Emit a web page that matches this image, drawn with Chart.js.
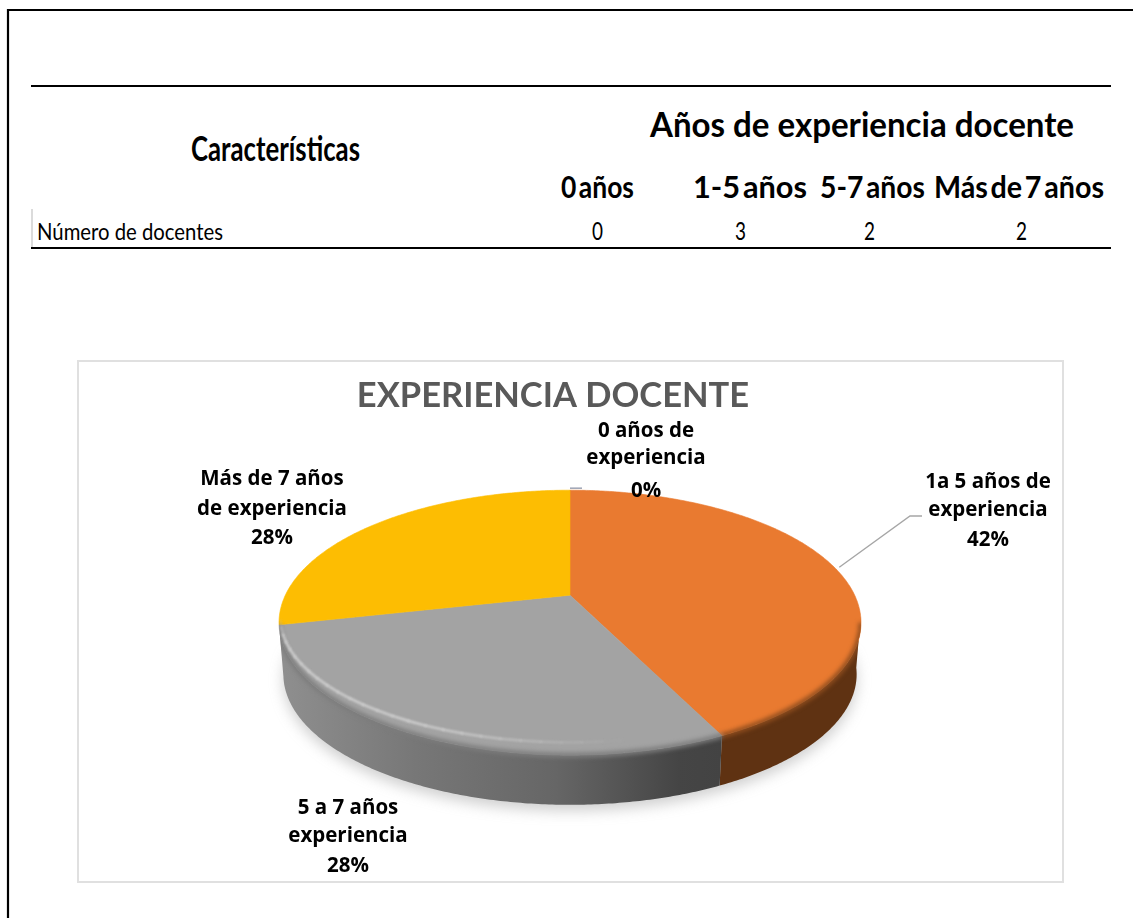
<!DOCTYPE html>
<html lang="es"><head><meta charset="utf-8">
<style>
html,body{margin:0;padding:0;background:#fff;width:1133px;height:918px;overflow:hidden}
#page{position:absolute;left:0;top:0;width:1133px;height:918px}
#page svg{position:absolute;left:0;top:0}
#frame{position:absolute;left:77px;top:360px;width:987px;height:523px;box-sizing:border-box;border:2px solid #e0e0e0}
#chart{position:absolute;left:78px;top:360px;width:985px;height:522px}
</style>
<script src="https://cdn.jsdelivr.net/npm/chart.js@4/dist/chart.umd.min.js"></script>
</head><body>
<div id="page">
<svg id="tbl" width="1133" height="918" xmlns="http://www.w3.org/2000/svg"></svg>
<div id="frame"></div>
<canvas id="chart" width="985" height="522"></canvas>
</div>
<script>
// ---- data ----
const chartTitle = 'EXPERIENCIA DOCENTE';
const categories = ['0 años de experiencia','1a 5 años de experiencia','5 a 7 años experiencia','Más de 7 años de experiencia'];
const docentes = [0,3,2,2];
const percentLabels = ['0%','42%','28%','28%'];
const labelLines = [['0 años de','experiencia'],['1a 5 años de','experiencia'],['5 a 7 años','experiencia'],['Más de 7 años','de experiencia']];
const faceColors = ['#5B9BD5','#E97A30','#A3A3A3','#FDBD02'];
const sideColors = ['#3f6a92','#5F3212','#666666','#a07800'];
const tableHeadLeft = 'Características';
const tableHeadRight = 'Años de experiencia docente';
const tableColumns = ['0 años','1-5 años','5-7 años','Más de 7 años'];
const tableRowLabel = 'Número de docentes';

// ---- table (real text) ----
const NS='http://www.w3.org/2000/svg', svg=document.getElementById('tbl');
function line(x1,y1,x2,y2,c,w){const l=document.createElementNS(NS,'line');
  l.setAttribute('x1',x1);l.setAttribute('y1',y1);l.setAttribute('x2',x2);l.setAttribute('y2',y2);
  l.setAttribute('stroke',c);l.setAttribute('stroke-width',w);svg.appendChild(l);}
function text(s,x,y,len,size,weight,ws){const t=document.createElementNS(NS,'text');
  t.textContent=s;t.setAttribute('x',x);t.setAttribute('y',y);
  t.setAttribute('style',`font-family:Lato,sans-serif;font-size:${size}px;font-weight:${weight};fill:#000;word-spacing:${ws||0}em`);
  if(len){t.setAttribute('textLength',len);t.setAttribute('lengthAdjust','spacingAndGlyphs');}
  svg.appendChild(t);}
line(7,10,1133,10,'#000',2.2); line(8,9,8,918,'#000',2.2);
line(31,86,1111,86,'#000',2); line(31,248,1111,248,'#000',2);
line(32,209,32,247,'#cfcfcf',1.5);
text(tableHeadLeft,191,161,169,34,700);
text(tableHeadRight,650,137,424,35,700);
const headX=[561,693,820,934], headW=[73,114,105,170];
tableColumns.forEach((c,i)=>text(c,headX[i],198,headW[i],31,700,-0.15));
text(tableRowLabel,37,240,186,24,400);
const valX=[592,735,864,1016];
docentes.forEach((v,i)=>text(String(v),valX[i],240,11,25,400));

// ---- 3D pie, drawn from the library's arc elements ----
const PERSP=0.2075, STRETCH=2.245, PIE_SHIFT_X=17, DEPTH=52, BOTTOM_SCALE=0.985;
const labelPos=[[568,77],[910,128],[270,454],[194,125]];
const LABEL_FONT='700 20.5px "Open Sans",sans-serif', LINE_H=[27,28,28,30];
const pctY=[137,186,512,184];

function projector(arc){
  const cx=arc.x+PIE_SHIFT_X, cy=arc.y, ry=arc.outerRadius, rx=ry*STRETCH;
  return (a,s=1,dy=0)=>{const w=1-PERSP*Math.sin(a);
    return [cx+rx*s*Math.cos(a)/w, cy+ry*s*Math.sin(a)/w+dy];};
}
function tracePts(ctx,P,a0,a1,s,dy,first){
  const n=Math.max(2,Math.ceil(Math.abs(a1-a0)/0.01));
  for(let i=0;i<=n;i++){const a=a0+(a1-a0)*i/n,p=P(a,s,dy);
    if(i===0&&first)ctx.moveTo(p[0],p[1]);else ctx.lineTo(p[0],p[1]);}
}
const FRONT0=Math.PI*12/180, FRONT1=Math.PI*167.2/180;

const pie3d={id:'pie3d',
  beforeDatasetDraw(chart){
    const ctx=chart.ctx, arcs=chart.getDatasetMeta(0).data, P=projector(arcs[0]);
    const TWO=Math.PI*2;
    ctx.save();
    // floor shadow
    ctx.filter='blur(7px)';ctx.fillStyle='rgba(130,130,130,.38)';
    ctx.beginPath();tracePts(ctx,P,0,Math.PI,BOTTOM_SCALE,DEPTH+6,true);ctx.closePath();ctx.fill();
    ctx.filter='none';
    // sides
    arcs.forEach((arc,i)=>{
      const a0=Math.max(arc.startAngle,FRONT0-0.05), a1=Math.min(arc.endAngle,FRONT1);
      if(a1<=a0)return;
      ctx.beginPath();tracePts(ctx,P,a0,a1,1,0,true);tracePts(ctx,P,a1,a0,BOTTOM_SCALE,DEPTH,false);ctx.closePath();
      if(i===2){
        const g=ctx.createLinearGradient(P(Math.PI,1)[0],0,P(a0,1)[0],0);
        g.addColorStop(0,'#8e8e8e');g.addColorStop(.3,'#777777');g.addColorStop(.62,'#666666');g.addColorStop(.9,'#454545');g.addColorStop(1,'#434343');
        ctx.fillStyle=g;
      } else ctx.fillStyle=sideColors[i];
      ctx.fill();
    });
    // top faces
    arcs.forEach((arc,i)=>{
      if(arc.endAngle-arc.startAngle<=0)return;
      ctx.beginPath();const c=P(0,0);ctx.moveTo(c[0],c[1]);
      tracePts(ctx,P,arc.startAngle,arc.endAngle,1,0,false);ctx.closePath();
      ctx.fillStyle=arc.options.backgroundColor;ctx.fill();
      ctx.strokeStyle=arc.options.backgroundColor;ctx.lineWidth=.6;ctx.stroke();
    });
    // bevels stay inside the silhouette
    ctx.save();
    ctx.beginPath();tracePts(ctx,P,0,TWO,1,0,true);ctx.closePath();
    tracePts(ctx,P,FRONT0-0.05,FRONT1,1,0,true);tracePts(ctx,P,FRONT1,FRONT0-0.05,BOTTOM_SCALE,DEPTH,false);ctx.closePath();
    ctx.clip();
    // soft dark rim
    arcs.forEach((arc,i)=>{
      const a0=Math.max(arc.startAngle,FRONT0), a1=Math.min(arc.endAngle,FRONT1);
      if(a1<=a0)return;
      ctx.filter='blur(2px)';ctx.lineWidth=5;
      ctx.strokeStyle=i===2?'#7c7c7c':'#8f4d1e';
      ctx.beginPath();tracePts(ctx,P,a0,a1,1,0,true);ctx.stroke();
      ctx.filter='none';
    });
    // soft highlight on the gray slice
    const gray=arcs[2];
    const hi0=gray.startAngle+0.3, hi1=gray.endAngle, N=26;
    ctx.filter='blur(1.2px)';ctx.lineWidth=2.4;ctx.lineCap='round';
    for(let k=0;k<N;k++){
      const a=hi0+(hi1-hi0)*k/N,b=hi0+(hi1-hi0)*(k+1)/N,f=(k+.5)/N;
      const off=x=>-12*Math.pow(Math.max(0,Math.sin(x)),.7);
      const p=P(a,.995,off(a)),q=P(b,.995,off(b));
      ctx.strokeStyle=`rgba(206,206,206,${Math.min(1,f*2.6)*(f>.9?(1-f)*10:1)})`;
      ctx.beginPath();ctx.moveTo(p[0],p[1]);ctx.lineTo(q[0],q[1]);ctx.stroke();
    }
    ctx.filter='none';
    ctx.restore();
    ctx.restore();
    return false;
  },
  afterDatasetsDraw(chart){
    const ctx=chart.ctx, arcs=chart.getDatasetMeta(0).data, P=projector(arcs[0]);
    ctx.save();
    // leader lines
    const o=arcs[1], mid=(o.startAngle+o.endAngle)/2, m=P(mid);
    ctx.strokeStyle='#a6a6a6';ctx.lineWidth=1.4;
    ctx.beginPath();ctx.moveTo(m[0]+4,m[1]-1);ctx.lineTo(832,156);ctx.lineTo(844,156);ctx.stroke();
    const z=P(arcs[0].startAngle);
    ctx.strokeStyle='#a3a9b8';ctx.lineWidth=1.6;
    ctx.beginPath();ctx.moveTo(z[0],z[1]-2);ctx.lineTo(z[0]+12,z[1]-2);ctx.stroke();
    // data labels
    ctx.fillStyle='#000';ctx.font=LABEL_FONT;ctx.textAlign='center';ctx.textBaseline='alphabetic';
    labelLines.forEach((lines,i)=>{
      const [x,y]=labelPos[i];
      lines.forEach((t,j)=>ctx.fillText(t,x,y+j*LINE_H[i]));
      ctx.fillText(percentLabels[i],x,pctY[i]);
    });
    ctx.restore();
  }
};

new Chart(document.getElementById('chart'),{
  type:'pie',
  data:{labels:categories,datasets:[{data:docentes,backgroundColor:faceColors,borderWidth:0,radius:126.8}]},
  plugins:[pie3d],
  options:{
    responsive:false,animation:false,
    layout:{padding:{left:0,right:35,top:0,bottom:112}},
    plugins:{
      legend:{display:false},tooltip:{enabled:false},
      title:{display:true,text:chartTitle,color:'#595959',
        font:{family:'Lato',size:34.5,weight:'700'},padding:{top:15,bottom:4}}
    }
  }
});
</script>
</body></html>
